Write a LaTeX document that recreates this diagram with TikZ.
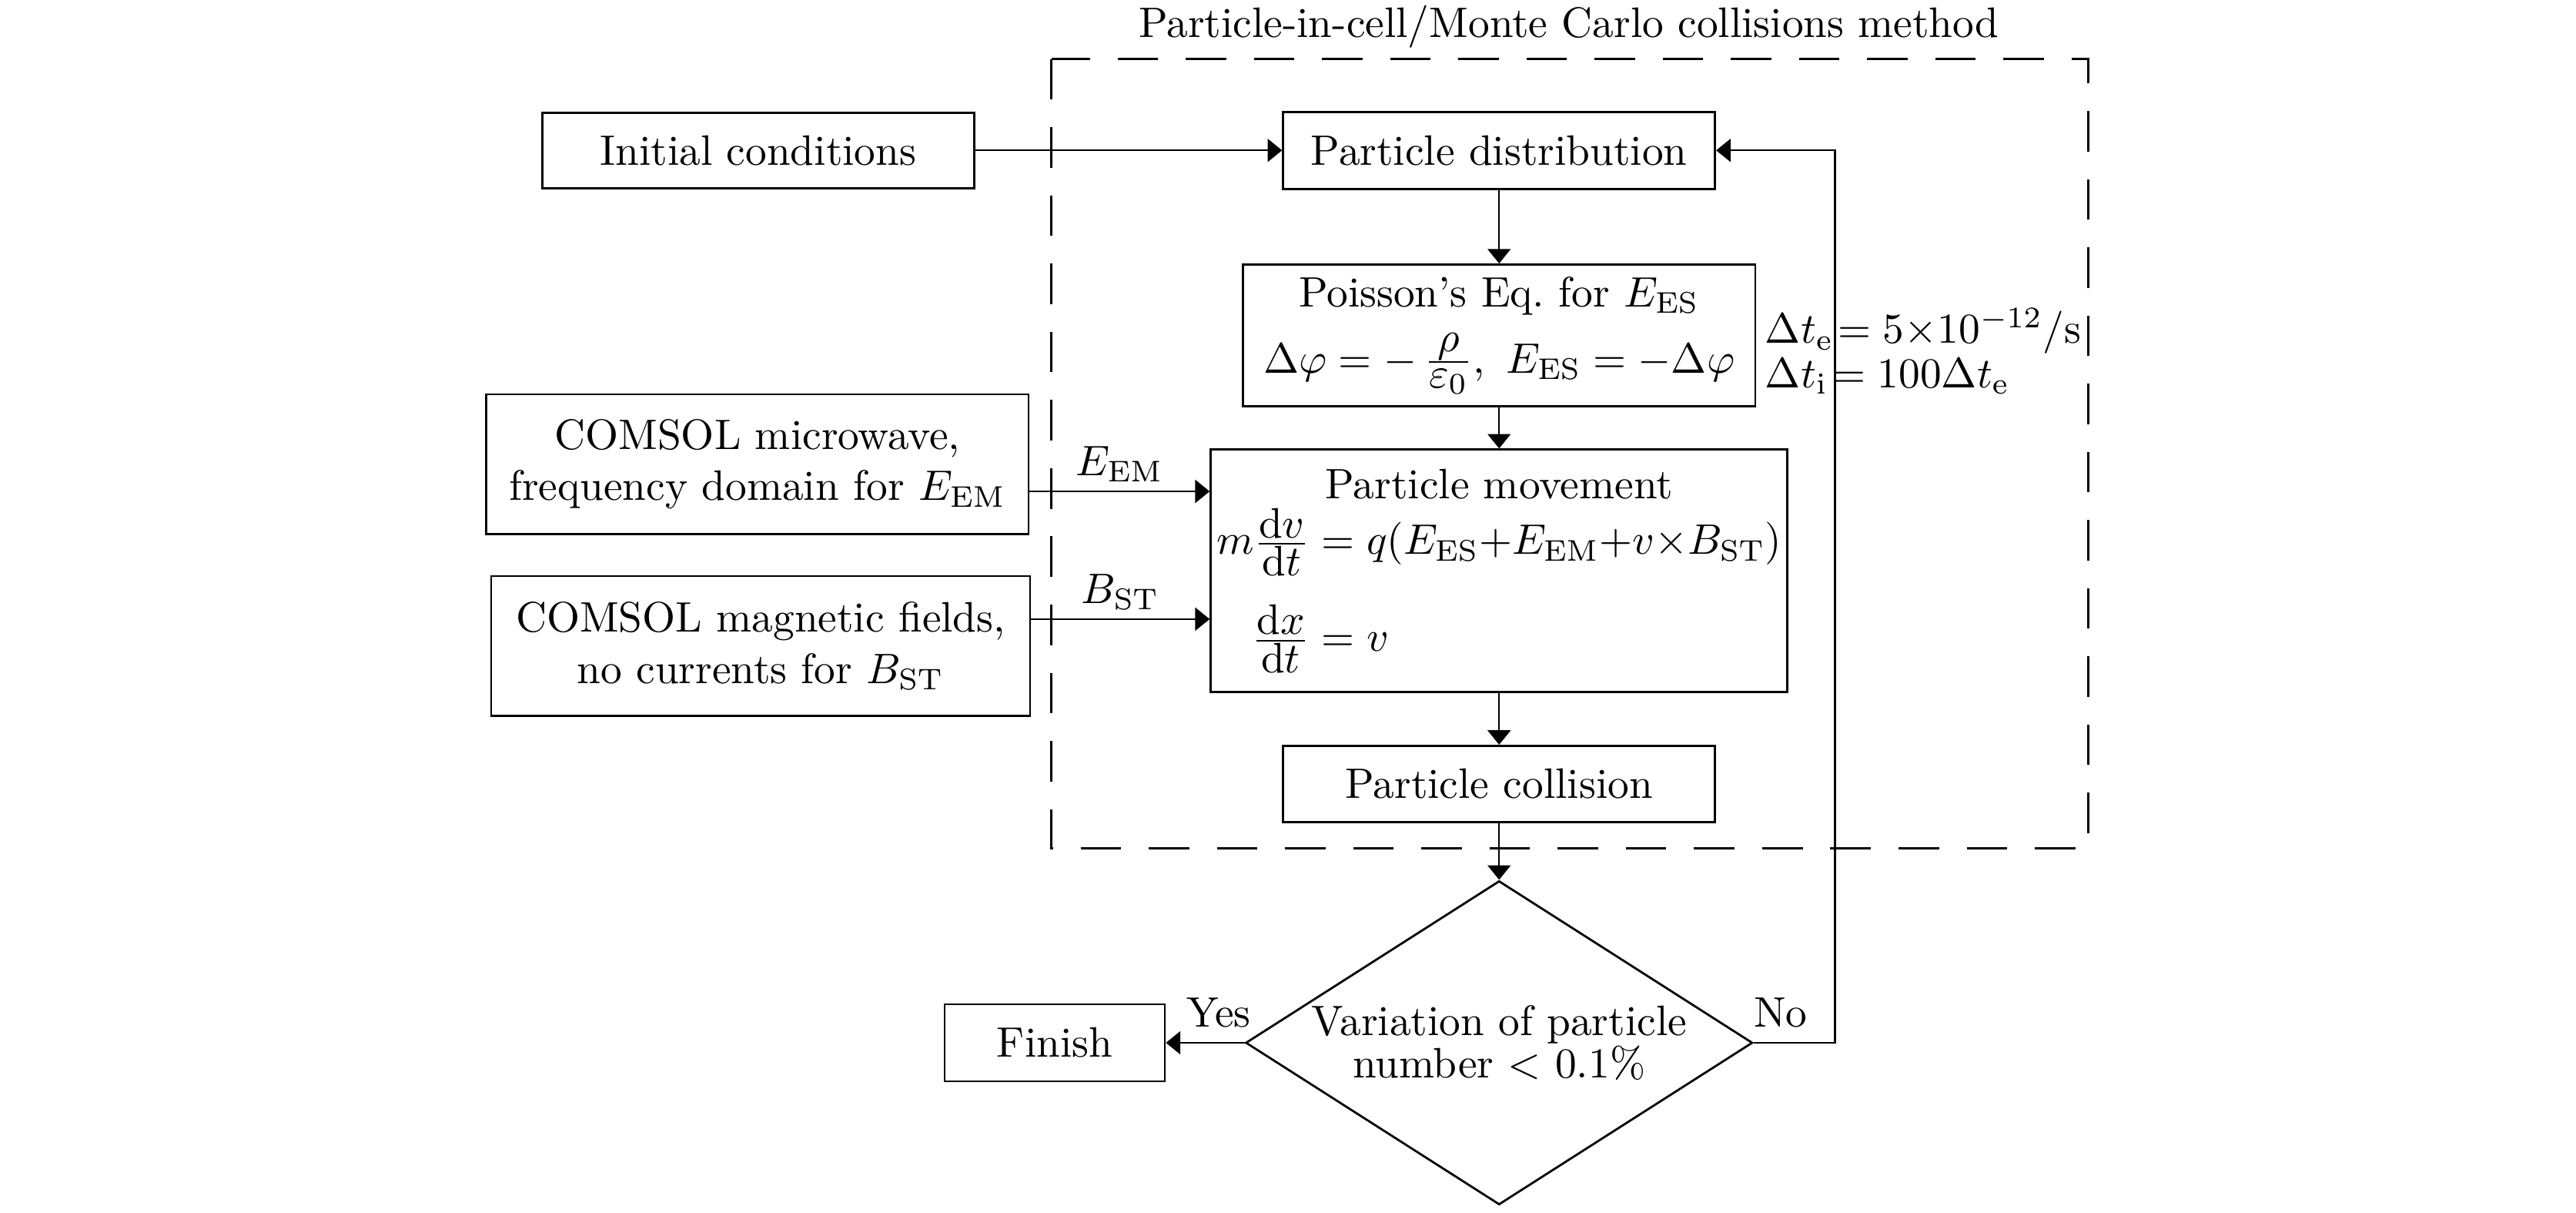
\documentclass[tikz,border=0pt]{standalone}
\usepackage{amsmath}
\usetikzlibrary{arrows.meta,shapes.geometric,calc}
\newcommand{\tfr}[2]{{\textstyle\frac{\textstyle #1}{\textstyle #2}}}
\begin{document}
\begin{tikzpicture}[x=0.3857pt,y=-0.3857pt,
  box/.style={draw, line width=0.5pt, inner sep=0pt, align=center},
  arr/.style={line width=0.45pt, -{Triangle[width=5.4pt,length=3.4pt]}},
  lbl/.style={inner sep=2pt},
  grp/.style={draw, line width=0.5pt, dash pattern=on 9.5pt off 6.5pt}
]
\useasboundingbox (0,0) rectangle (1568,738);

% group frame and title
\draw[grp] (640,36) rectangle (1271,516);
\node[anchor=base] (title) at (955,22.5) {Particle-in-cell/Monte Carlo collisions method};

% boxes
\node[box, minimum width=101.4pt, minimum height=17.7pt] (init) at (461.5,91.5) {Initial conditions};
\node[box, minimum width=101.4pt, minimum height=18.1pt] (pd) at (912.5,91.5) {Particle distribution};
\node[box, minimum width=120.3pt, minimum height=33.2pt] (poisson) at (912.5,204)
  {Poisson's Eq.\ for $E_{\mathrm{ES}}$\\[3.5pt]
   $\Delta\varphi = -\,\tfr{\rho}{\varepsilon_0},\ E_{\mathrm{ES}} = -\Delta\varphi$};
\node[box, minimum width=127.3pt, minimum height=32.8pt] (mw) at (461,282.5)
  {COMSOL microwave,\\ frequency domain for $E_{\mathrm{EM}}$};
\node[box, minimum width=126.5pt, minimum height=32.8pt] (mag) at (463,393)
  {COMSOL magnetic fields,\\ no currents for $B_{\mathrm{ST}}$};
\node[box, minimum width=135.4pt, minimum height=56.9pt] (pm) at (912.5,347.3)
  {Particle movement\\[1.2pt]
   $\begin{aligned}
     m\tfr{\mathrm{d}v}{\mathrm{d}t} &= q(E_{\mathrm{ES}}{+}E_{\mathrm{EM}}{+}v{\times}B_{\mathrm{ST}})\\[2.8pt]
     \tfr{\mathrm{d}x}{\mathrm{d}t} &= v
   \end{aligned}$};
\node[box, minimum width=101.4pt, minimum height=17.9pt] (pc) at (912.5,477) {Particle collision};
\node[draw, line width=0.5pt, diamond, inner sep=0pt, minimum width=119pt, minimum height=76pt] (dec) at (912.5,634.5) {};
\node[align=center, inner sep=0pt] (dectext) at (dec.center) {Variation of particle\\[-2pt] number $<$ 0.1\%};
\node[box, minimum width=51.7pt, minimum height=18.1pt] (finish) at (642,634.5) {Finish};

% time step labels
\node[anchor=base west, inner sep=0pt] (dt1) at (1074,209) {$\Delta t_{\mathrm{e}}\!= 5{\times}10^{-12}/\mathrm{s}$};
\node[anchor=base west, inner sep=0pt] (dt2) at (1074,236) {$\Delta t_{\mathrm{i}}\!= 100\Delta t_{\mathrm{e}}$};

% helper coordinates
\coordinate (yem) at (0,299);
\coordinate (yst) at (0,376.7);
\coordinate (fb) at (1117,634.5);

% connectors
\draw[arr] (init.east) -- (pd.west);
\draw[arr] (pd.south) -- (poisson.north);
\draw[arr] (poisson.south) -- (pm.north);
\draw[arr] (mw.east |- yem) -- node[above, lbl] {$E_{\mathrm{EM}}$} (pm.west |- yem);
\draw[arr] (mag.east |- yst) -- node[above, lbl] {$B_{\mathrm{ST}}$} (pm.west |- yst);
\draw[arr] (pm.south) -- (pc.north);
\draw[arr] (pc.south) -- (dec.north);
\draw[arr] (dec.west) -- node[pos=0.33, above] {Yes} (finish.east);
\draw[arr] (dec.east) -- node[pos=0.33, above] {No} (fb) |- (pd.east);
\end{tikzpicture}
\end{document}
